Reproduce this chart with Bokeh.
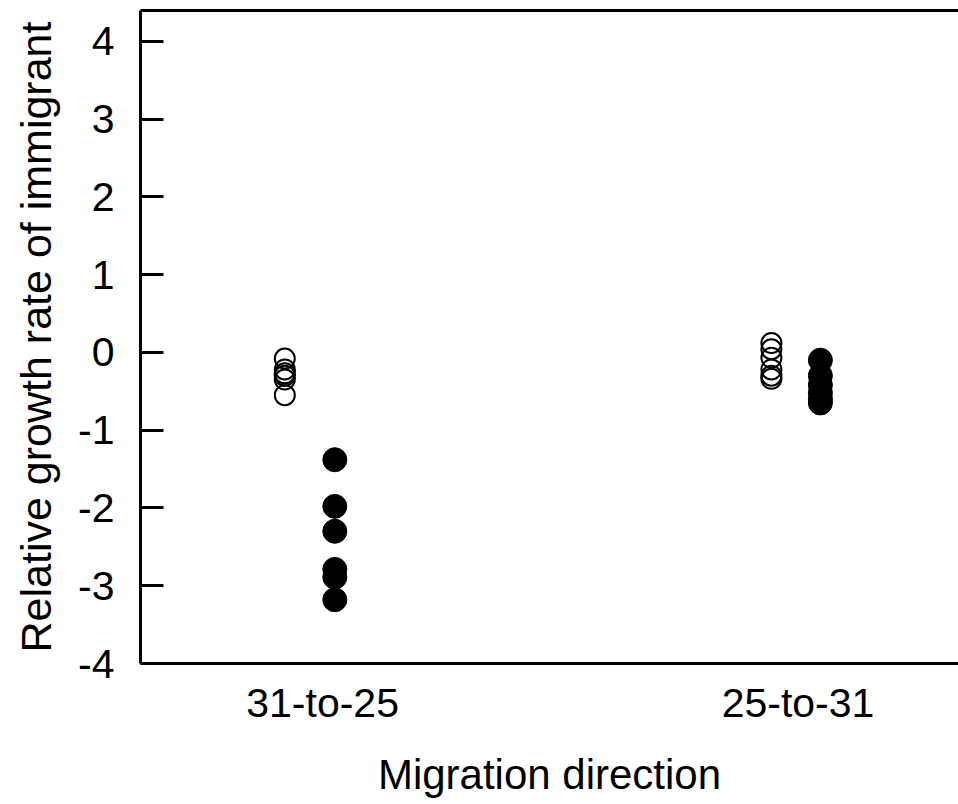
from bokeh.plotting import figure
from bokeh.models import LinearAxis, FixedTicker, Range1d, ColumnDataSource
from bokeh.embed import file_html
from bokeh.resources import INLINE

# Data
categories = ["31-to-25", "25-to-31"]
cat_pos = [1, 2]
y_ticks = [-4, -3, -2, -1, 0, 1, 2, 3, 4]
y_tick_labels = ["-4", "-3", "-2", "-1", "0", "1", "2", "3", "4"]

# open circles (one marker type) and filled circles (other) per migration direction
open_x = [0.9205] * 6 + [1.944] * 6
open_y = [-0.08, -0.22, -0.27, -0.30, -0.35, -0.55,
          0.12, 0.04, -0.07, -0.22, -0.30, -0.34]
filled_x = [1.0257] * 6 + [2.047] * 6
filled_y = [-1.38, -1.98, -2.30, -2.79, -2.89, -3.18,
            -0.10, -0.30, -0.42, -0.52, -0.60, -0.65]

FONT = "Liberation Sans"

p = figure(width=958, height=804, output_backend="svg", toolbar_location=None,
           x_range=Range1d(0.617, 2.3375), y_range=Range1d(-4, 4.395),
           x_axis_type=None, y_axis_type=None,
           min_border_left=140, min_border_right=0, min_border_top=10,
           min_border_bottom=141)
p.outline_line_color = None
p.grid.visible = False
p.background_fill_color = "white"
p.border_fill_color = "white"

# left axis
ya = LinearAxis(ticker=FixedTicker(ticks=y_ticks))
ya.major_label_overrides = {t: s for t, s in zip(y_ticks, y_tick_labels)}
ya.axis_label = "Relative growth rate of immigrant"
ya.axis_label_text_font = FONT
ya.axis_label_text_font_size = "43px"
ya.axis_label_text_font_style = "normal"
ya.axis_label_text_color = "black"
ya.axis_label_standoff = 15
ya.major_label_text_font = FONT
ya.major_label_text_font_size = "41px"
ya.major_label_standoff = 26
ya.major_tick_in = 23
ya.major_tick_out = 0
ya.minor_tick_line_color = None
ya.axis_line_width = 3
ya.major_tick_line_width = 3
ya.axis_line_color = "black"
ya.major_label_text_color = "black"
p.add_layout(ya, "left")

# bottom axis
xa = LinearAxis(ticker=FixedTicker(ticks=cat_pos))
xa.major_label_overrides = {pos: lab for pos, lab in zip(cat_pos, categories)}
xa.axis_label = "Migration direction"
xa.axis_label_text_font = FONT
xa.axis_label_text_font_size = "42px"
xa.axis_label_text_font_style = "normal"
xa.axis_label_text_color = "black"
xa.axis_label_standoff = 22
xa.major_label_text_font = FONT
xa.major_label_text_font_size = "41px"
xa.major_label_text_color = "black"
xa.major_label_standoff = 10
xa.major_tick_line_color = None
xa.minor_tick_line_color = None
xa.axis_line_width = 3
xa.axis_line_color = "black"
p.add_layout(xa, "below")

# top frame line
ta = LinearAxis(ticker=FixedTicker(ticks=[]))
ta.major_tick_line_color = None
ta.minor_tick_line_color = None
ta.major_label_text_font_size = "0px"
ta.major_label_standoff = 0
ta.axis_line_width = 3
ta.axis_line_color = "black"
p.add_layout(ta, "above")

src_open = ColumnDataSource(dict(x=open_x, y=open_y))
src_filled = ColumnDataSource(dict(x=filled_x, y=filled_y))
p.scatter("x", "y", source=src_open, size=20, marker="circle",
          fill_color=None, line_color="black", line_width=2)
p.scatter("x", "y", source=src_filled, size=24, marker="circle",
          fill_color="black", line_color="black", line_width=1)

open("out.html", "w").write(file_html(p, INLINE))
